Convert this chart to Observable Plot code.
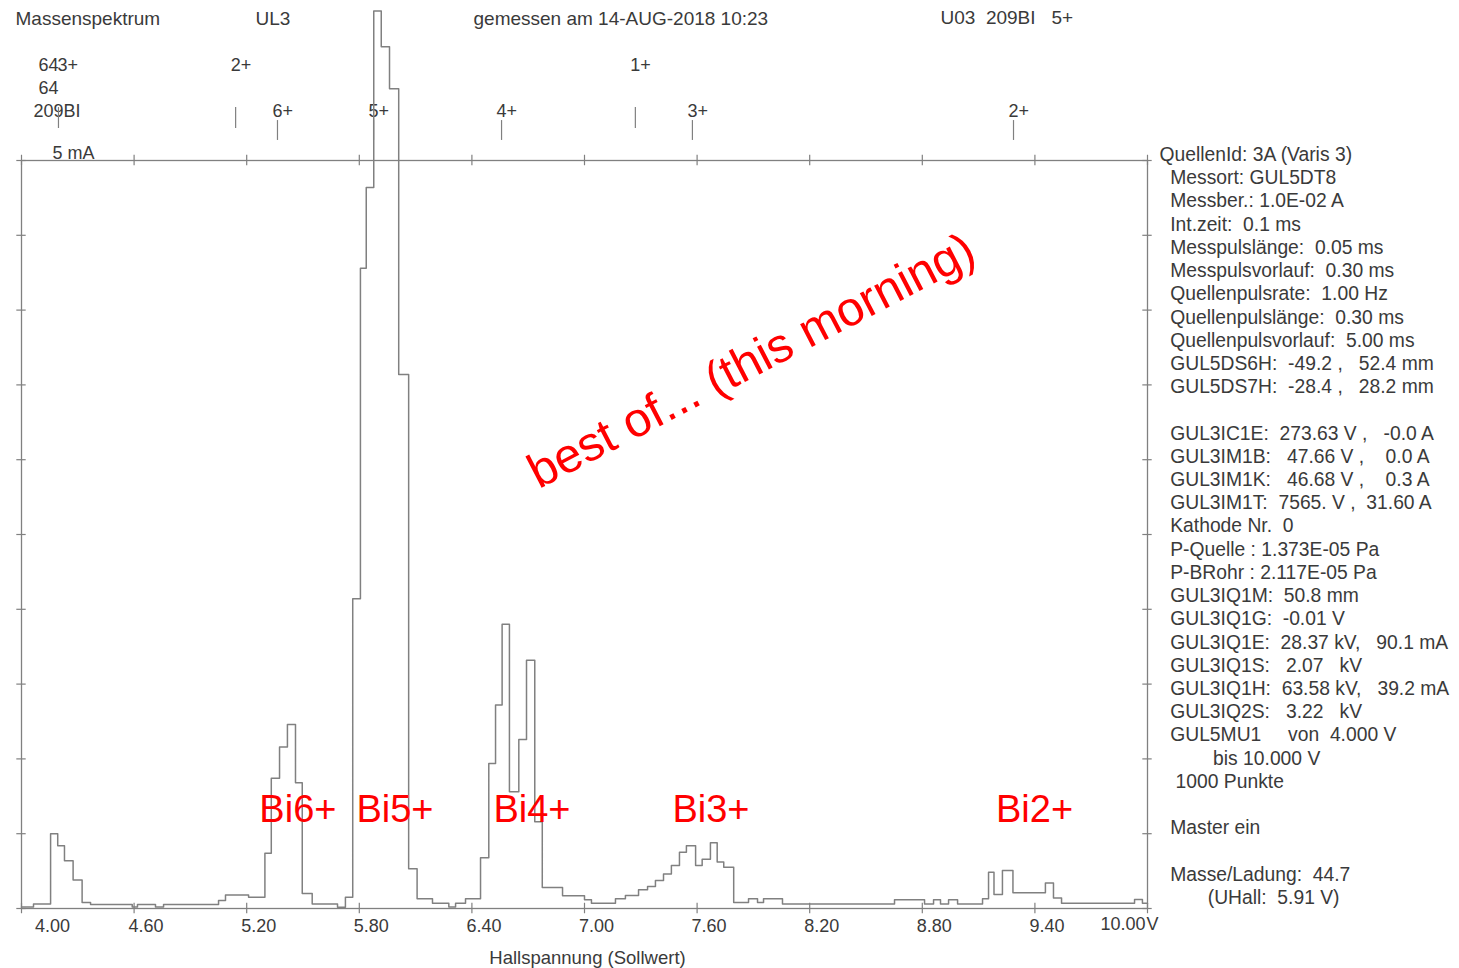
<!DOCTYPE html>
<html><head><meta charset="utf-8">
<script src="https://cdn.jsdelivr.net/npm/d3@7"></script>
<script src="https://cdn.jsdelivr.net/npm/@observablehq/plot@0.6"></script>
<style>
html,body{margin:0;padding:0;background:#fff;}
svg text, svg tspan{white-space:pre;}
</style></head><body><div id="chart"></div>
<script>
// Spectrum: step starts (Hall voltage, V) and beam current (mA)
const hallV = [4.000,4.064,4.155,4.193,4.229,4.275,4.323,4.368,4.590,4.618,4.714,4.757,
  5.050,5.087,5.210,5.297,5.331,5.375,5.417,5.460,5.496,5.549,5.684,5.726,
  5.765,5.806,5.837,5.877,5.917,5.961,6.010,6.063,6.108,6.190,6.277,6.313,6.366,
  6.446,6.490,6.526,6.561,6.600,6.650,6.691,6.735,6.775,6.883,7.000,7.037,
  7.165,7.218,7.288,7.336,7.378,7.421,7.463,7.506,7.543,7.592,7.627,7.671,7.707,7.742,7.795,
  7.874,7.922,7.954,8.055,8.652,8.812,8.860,8.897,8.940,8.988,
  9.121,9.153,9.182,9.227,9.283,9.456,9.499,9.542,9.931,9.973,10.000];
const currentMA = [0.01,0.03,0.50,0.42,0.32,0.19,0.04,0.027,0.01,0.027,0.01,0.027,
  0.053,0.09,0.075,0.37,0.87,1.08,1.23,0.84,0.10,0.03,0.008,0.075,
  2.07,4.28,4.82,6.0,5.76,5.48,3.57,0.265,0.065,0.035,0.01,0.035,0.065,
  0.34,0.97,1.36,1.90,0.78,1.13,1.66,0.58,0.14,0.085,0.058,0.035,
  0.065,0.087,0.125,0.147,0.187,0.23,0.287,0.376,0.42,0.287,0.33,0.44,0.31,0.276,0.04,
  0.065,0.04,0.065,0.03,0.058,0.03,0.058,0.03,0.058,0.03,
  0.065,0.243,0.094,0.254,0.105,0.17,0.07,0.035,0.06,0.035,0.035];

const xTicks = [4.00,4.60,5.20,5.80,6.40,7.00,7.60,8.20,8.80,9.40,10.00];
const yTicks = [0,0.5,1,1.5,2,2.5,3,3.5,4,4.5,5];

// Charge-state markers
const ion64Labels = ["3+","2+","1+"];
const ion64X = [4.197,5.141,7.271];
const ionBiLabels = ["6+","5+","4+","3+","2+"];
const ionBiX = [5.364,5.876,6.558,7.575,9.286];

// Red peak annotations
const biLabels = ["Bi6+","Bi5+","Bi4+","Bi3+","Bi2+"];
const biX = [5.473,5.990,6.720,7.674,9.398];

const headerTexts = ["Massenspektrum","UL3","gemessen am 14-AUG-2018 10:23","U03  209BI   5+"];

const panelLines = [
"QuellenId: 3A (Varis 3)",
"  Messort: GUL5DT8",
"  Messber.: 1.0E-02 A",
"  Int.zeit:  0.1 ms",
"  Messpulslänge:  0.05 ms",
"  Messpulsvorlauf:  0.30 ms",
"  Quellenpulsrate:  1.00 Hz",
"  Quellenpulslänge:  0.30 ms",
"  Quellenpulsvorlauf:  5.00 ms",
"  GUL5DS6H:  -49.2 ,   52.4 mm",
"  GUL5DS7H:  -28.4 ,   28.2 mm",
"",
"  GUL3IC1E:  273.63 V ,   -0.0 A",
"  GUL3IM1B:   47.66 V ,    0.0 A",
"  GUL3IM1K:   46.68 V ,    0.3 A",
"  GUL3IM1T:  7565. V ,  31.60 A",
"  Kathode Nr.  0",
"  P-Quelle : 1.373E-05 Pa",
"  P-BRohr : 2.117E-05 Pa",
"  GUL3IQ1M:  50.8 mm",
"  GUL3IQ1G:  -0.01 V",
"  GUL3IQ1E:  28.37 kV,   90.1 mA",
"  GUL3IQ1S:   2.07   kV",
"  GUL3IQ1H:  63.58 kV,   39.2 mA",
"  GUL3IQ2S:   3.22   kV",
"  GUL5MU1     von  4.000 V",
"          bis 10.000 V",
"   1000 Punkte",
"",
"  Master ein",
"",
"  Masse/Ladung:  44.7",
"         (UHall:  5.91 V)"
];

const rows = hallV.map((x, i) => ({x, y: currentMA[i]}));
const INK = "#3a3a3a", LINE = "#808080";
const FONT = "'Liberation Sans', Arial, Helvetica, sans-serif";

function note(text, dx, dy, opts = {}) {
  return Plot.text([text], {frameAnchor: "top-left", dx, dy, textAnchor: "start", fontSize: 18, fill: INK, ...opts});
}

const chart = Plot.plot({
  width: 1459, height: 968,
  marginLeft: 21, marginRight: 312, marginTop: 160, marginBottom: 60,
  x: {domain: [4, 10], axis: null},
  y: {domain: [0, 5], axis: null},
  style: {fontFamily: FONT, background: "#fff", overflow: "visible"},
  marks: [
    Plot.frame({stroke: LINE, strokeWidth: 1.3}),
    Plot.ruleX(xTicks, {y1: -0.035, y2: 0.035, stroke: LINE, strokeWidth: 1.2}),
    Plot.ruleX(xTicks, {y1: 4.965, y2: 5.035, stroke: LINE, strokeWidth: 1.2}),
    Plot.ruleY(yTicks, {x1: 3.975, x2: 4.025, stroke: LINE, strokeWidth: 1.2}),
    Plot.ruleY(yTicks, {x1: 9.975, x2: 10.025, stroke: LINE, strokeWidth: 1.2}),
    // tick labels
    Plot.text(xTicks.slice(1, -1), {x: d => d, frameAnchor: "bottom", text: d => d.toFixed(2), dy: 23, dx: 12, fontSize: 18, fill: INK}),
    Plot.text(xTicks.slice(0, 1), {x: d => d, frameAnchor: "bottom", text: d => d.toFixed(2), dy: 23, dx: 31, fontSize: 18, fill: INK}),
    Plot.text(xTicks.slice(-1), {x: d => d, frameAnchor: "bottom", text: d => d.toFixed(2), dy: 21, dx: -2, textAnchor: "end", fontSize: 18, fill: INK}),
    Plot.text(["V"], {x: 10, frameAnchor: "bottom", dy: 21, dx: -1, textAnchor: "start", fontSize: 18, fill: INK}),
    Plot.text(["Hallspannung (Sollwert)"], {frameAnchor: "bottom", dx: 3, dy: 55, fontSize: 18.5, fill: INK}),
    // header
    note(headerTexts[0], -6, -149, {fontSize: 19}),
    note(headerTexts[1], 234, -149, {fontSize: 19}),
    note(headerTexts[2], 452, -149, {fontSize: 19}),
    note(headerTexts[3], 919, -150, {fontSize: 19}),
    note("5 mA", 31, -14),
    // marker rows
    note("64", 17, -102),
    note("64", 17, -79),
    note("209BI", 12, -56),
    Plot.text(ion64Labels.slice(0, 1), {x: ion64X.slice(0, 1), frameAnchor: "top", dy: -102, dx: -1, textAnchor: "start", fontSize: 18, fill: INK}),
    Plot.text(ion64Labels.slice(1), {x: ion64X.slice(1), frameAnchor: "top", dy: -102, dx: -5, textAnchor: "start", fontSize: 18, fill: INK}),
    Plot.ruleX(ion64X, {y1: 5.214, y2: 5.354, stroke: LINE, strokeWidth: 1.2}),
    Plot.text(ionBiLabels, {x: ionBiX, frameAnchor: "top", dy: -56, dx: -5, textAnchor: "start", fontSize: 18, fill: INK}),
    Plot.ruleX(ionBiX, {y1: 5.134, y2: 5.267, stroke: LINE, strokeWidth: 1.2}),
    // spectrum
    Plot.line(rows, {x: "x", y: "y", curve: "step-after", stroke: LINE, strokeWidth: 1.5}),
    // red annotations
    Plot.text(biLabels, {x: biX, y: 0.58, lineAnchor: "bottom", fill: "#ff0000", fontSize: 38}),
    Plot.text(["best of... (this morning)"], {x: 7.89, y: 3.66, rotate: -27.5, fill: "#ff0000", fontSize: 48.5}),
    // parameter panel
    Plot.text([panelLines.join("\n")], {frameAnchor: "top-right", textAnchor: "start", lineAnchor: "top", dx: 12, dy: -16, fontSize: 19.3, lineHeight: 1.203, fill: INK})
  ]
});
document.getElementById("chart").appendChild(chart);
</script>
</body></html>
